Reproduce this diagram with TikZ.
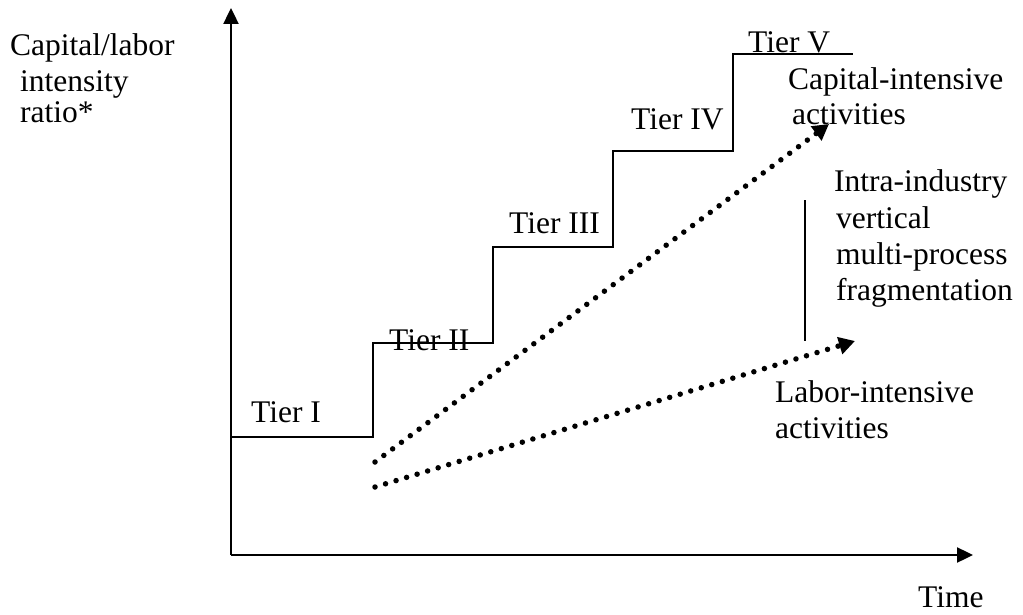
\documentclass[tikz,border=0pt]{standalone}
\usepackage{fontspec}
\setmainfont{Liberation Serif}
\usetikzlibrary{arrows.meta}
\begin{document}
\begin{tikzpicture}[x=1pt,y=-1pt,
  lbl/.style={anchor=base west,inner sep=0pt,font=\fontsize{31.5}{36}\selectfont},
  axis/.style={line width=2.4pt,-{Triangle[length=16pt,width=15pt]}},
  stair/.style={line width=2.4pt},
  dotarrow/.style={line width=5.5pt,line cap=round,dash pattern=on 0pt off 11pt,-{Triangle[length=16pt,width=17pt]}},
  bar/.style={line width=2.6pt}]
\useasboundingbox (0,0) rectangle (1023,615);
% axes
\coordinate (O) at (231,555);
\coordinate (ytop) at (231,8);
\coordinate (xend) at (973,555);
\draw[axis] (O) -- (ytop);
\draw[axis] (O) -- (xend);
% staircase
\coordinate (s0) at (231,437);
\coordinate (s1) at (373,437);
\coordinate (s2) at (373,343);
\coordinate (s3) at (493,343);
\coordinate (s4) at (493,247);
\coordinate (s5) at (613,247);
\coordinate (s6) at (613,151);
\coordinate (s7) at (733,151);
\coordinate (s8) at (733,54);
\coordinate (s9) at (853,54);
\draw[stair] (s0) -- (s1) -- (s2) -- (s3) -- (s4) -- (s5) -- (s6) -- (s7) -- (s8) -- (s9);
% dotted arrows
\coordinate (a1s) at (375,462);
\coordinate (a1e) at (829,124);
\coordinate (a2s) at (375,487);
\coordinate (a2e) at (855,341);
\draw[dotarrow] (a1s) -- (a1e);
\draw[dotarrow] (a2s) -- (a2e);
% vertical bar
\coordinate (b1) at (805,200);
\coordinate (b2) at (805,341);
\draw[bar] (b1) -- (b2);
% labels
\node[lbl] (yl1) at (10,56) {Capital/labor};
\node[lbl] (yl2) at (20,92) {intensity};
\node[lbl] (yl3) at (20,123) {ratio*};
\node[lbl] (t1) at (251,422) {Tier I};
\node[lbl] (t2) at (389,350) {Tier II};
\node[lbl] (t3) at (509,233) {Tier III};
\node[lbl] (t4) at (631,130) {Tier IV};
\node[lbl] (t5) at (748,53) {Tier V};
\node[lbl] (c1) at (788,90) {Capital-intensive};
\node[lbl] (c2) at (792,125) {activities};
\node[lbl] (f1) at (834,192) {Intra-industry};
\node[lbl] (f2) at (836,228) {vertical};
\node[lbl] (f3) at (836,264) {multi-process};
\node[lbl] (f4) at (836,300) {fragmentation};
\node[lbl] (l1) at (775,402) {Labor-intensive};
\node[lbl] (l2) at (775,438) {activities};
\node[lbl] (tm) at (918,607) {Time};
\end{tikzpicture}
\end{document}
